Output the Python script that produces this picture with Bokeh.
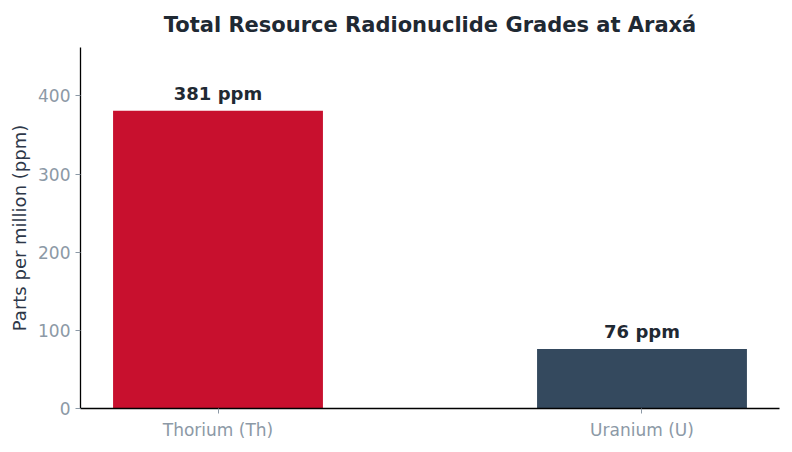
from bokeh.plotting import figure
from bokeh.models import FactorRange, Range1d, ColumnDataSource, LabelSet
from bokeh.core.properties import value
from bokeh.embed import file_html
from bokeh.resources import INLINE

categories = ["Thorium (Th)", "Uranium (U)"]
values = [381, 76]
labels = ["381 ppm", "76 ppm"]
colors = ["#C8102E", "#34495E"]

FONT = "DejaVu Sans"

src = ColumnDataSource(dict(cat=categories, val=values, lab=labels, col=colors))

p = figure(width=784, height=444, output_backend="svg", toolbar_location=None,
           x_range=FactorRange(*categories, factor_padding=1.0, range_padding=0.1486,
                               range_padding_units="absolute"),
           y_range=Range1d(0, 462),
           title="Total Resource Radionuclide Grades at Araxá",
           min_border_left=80, min_border_right=5, min_border_bottom=36, min_border_top=22)

p.vbar(x="cat", top="val", width=0.99, color="col", line_color=None, source=src)

p.add_layout(LabelSet(x="cat", y="val", text="lab", source=src, y_offset=7,
                      text_align="center", text_baseline="bottom",
                      text_font=value(FONT), text_font_size="18px", text_font_style="bold",
                      text_color="#1F2933"))

p.title.align = "center"
p.title.text_font = FONT
p.title.text_font_size = "21px"
p.title.text_font_style = "bold"
p.title.text_color = "#1F2933"
p.title.standoff = 21

p.xgrid.visible = False
p.ygrid.visible = False
p.outline_line_color = None

for ax in (p.xaxis, p.yaxis):
    ax.axis_line_color = "black"
    ax.axis_line_width = 1.3
    ax.major_tick_line_color = "#8C99A6"
    ax.major_tick_out = 5
    ax.major_tick_in = 0
    ax.minor_tick_line_color = None
    ax.major_label_text_font = FONT
    ax.major_label_text_font_size = "17px"
    ax.major_label_text_color = "#8C99A6"

p.xaxis.major_label_standoff = 6
p.yaxis.ticker = [0, 100, 200, 300, 400]
p.yaxis.axis_label = "Parts per million (ppm)"
p.yaxis.axis_label_text_font = FONT
p.yaxis.axis_label_text_font_size = "18px"
p.yaxis.axis_label_text_font_style = "normal"
p.yaxis.axis_label_text_color = "#2D3748"

open("out.html", "w").write(file_html(p, INLINE))
